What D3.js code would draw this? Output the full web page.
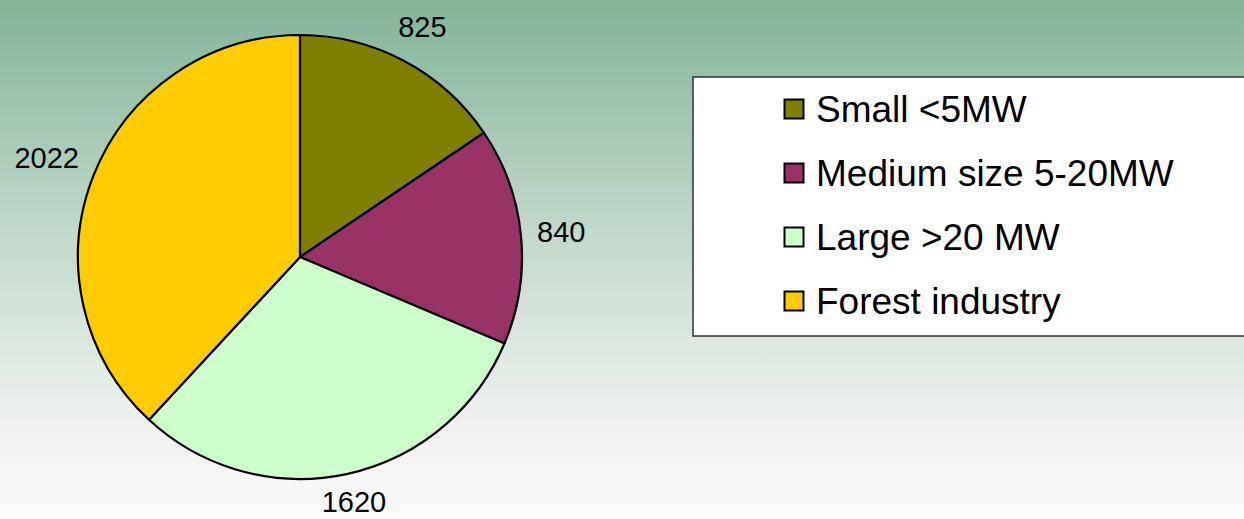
<!DOCTYPE html>
<html>
<head>
<meta charset="utf-8">
<script src="https://cdn.jsdelivr.net/npm/d3@7"></script>
<style>
  body { margin: 0; padding: 0; overflow: hidden; }
  svg { display: block; font-family: "Liberation Sans", Arial, sans-serif; }
</style>
</head>
<body>
<svg width="1244" height="519"></svg>
<script>
var categories = ["Small <5MW", "Medium size 5-20MW", "Large >20 MW", "Forest industry"];
var values = [825, 840, 1620, 2022];
var colors = ["#808000", "#993366", "#ccffcc", "#ffcc00"];

var width = 1244;
var height = 519;
var cx = 300, cy = 257, radius = 222;

var svg = d3.select("svg");

// background gradient, green on top fading to almost white
var defs = svg.append("defs");
var grad = defs.append("linearGradient")
    .attr("id", "bg")
    .attr("x1", 0).attr("y1", 0).attr("x2", 0).attr("y2", 1);
grad.append("stop").attr("offset", "0%").attr("stop-color", "#82b498");
grad.append("stop").attr("offset", "45%").attr("stop-color", "#c2d9cb");
grad.append("stop").attr("offset", "82%").attr("stop-color", "#eff2ef");
grad.append("stop").attr("offset", "100%").attr("stop-color", "#fafafa");

svg.append("rect")
    .attr("width", width)
    .attr("height", height)
    .attr("fill", "url(#bg)");

var data = categories.map((c, i) => ({ name: c, value: values[i], color: colors[i] }));

var arcs = d3.pie()
    .value(d => d.value)
    .sort(null)(data);

var path = d3.arc()
    .innerRadius(0)
    .outerRadius(radius);

var chart = svg.append("g")
    .attr("transform", "translate(" + cx + "," + cy + ")");

chart.selectAll(".arc")
    .data(arcs)
    .enter()
    .append("path")
      .classed("arc", true)
      .attr("fill", d => d.data.color)
      .attr("stroke", "black")
      .attr("stroke-width", 2.2)
      .attr("stroke-linejoin", "round")
      .attr("d", path);

// value labels outside the pie
var labels = chart.selectAll(".lbl")
    .data(arcs)
    .enter()
    .append("text")
      .classed("lbl", true)
      .attr("text-anchor", "middle")
      .attr("dominant-baseline", "central")
      .attr("font-size", 29)
      .attr("fill", "#000")
      .text(d => d.data.value);

labels.each(function(d) {
    var w = this.getComputedTextLength();
    var h = 28;
    var a = (d.startAngle + d.endAngle) / 2;
    var s = Math.sin(a), c = Math.cos(a);
    var r = radius + 15 + Math.abs(s) * w / 2 + Math.abs(c) * h / 2;
    // keep the text inside the picture
    var y = Math.min(-c * r, height - cy - 17);
    d3.select(this)
      .attr("x", s * r)
      .attr("y", y);
});

// legend
var legend = svg.append("g");
legend.append("rect")
    .attr("x", 693)
    .attr("y", 77)
    .attr("width", 600)
    .attr("height", 259)
    .attr("fill", "#ffffff")
    .attr("stroke", "#333")
    .attr("stroke-width", 1.5);

var rowY = d3.scalePoint()
    .domain(categories)
    .range([109, 301]);

var items = legend.selectAll(".item")
    .data(data)
    .enter()
    .append("g")
      .classed("item", true)
      .attr("transform", d => "translate(0," + rowY(d.name) + ")");

items.append("rect")
    .attr("x", 784.5)
    .attr("y", -9.5)
    .attr("width", 19)
    .attr("height", 19)
    .attr("fill", d => d.color)
    .attr("stroke", "black")
    .attr("stroke-width", 2);

items.append("text")
    .attr("x", 816)
    .attr("y", 0)
    .attr("dominant-baseline", "central")
    .attr("font-size", 37)
    .attr("fill", "#000")
    .text(d => d.name);
</script>
</body>
</html>
